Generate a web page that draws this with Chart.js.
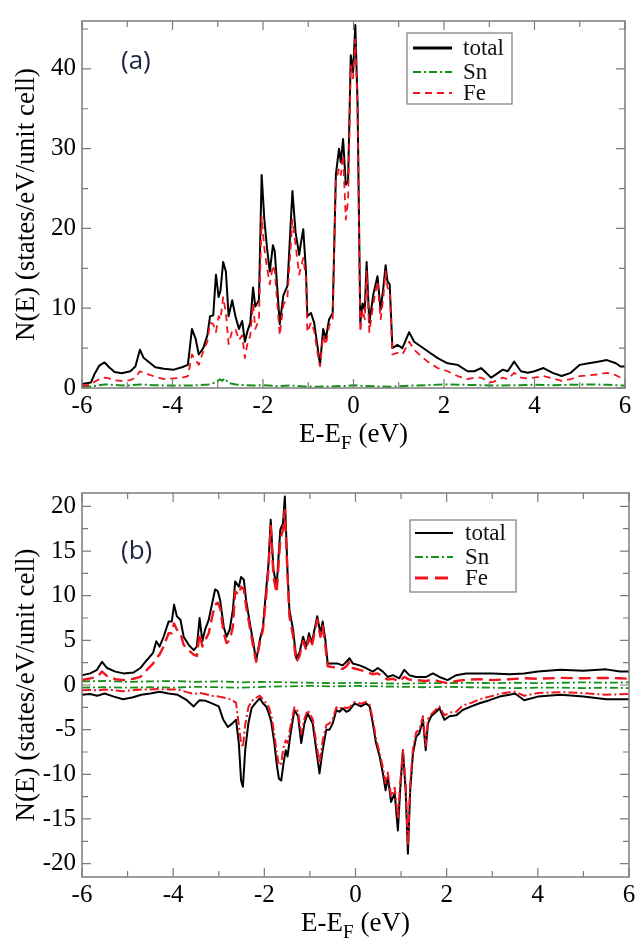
<!DOCTYPE html>
<html>
<head>
<meta charset="utf-8">
<script src="https://cdn.jsdelivr.net/npm/chart.js@4.4.1/dist/chart.umd.min.js"></script>
<style>
  html, body { margin: 0; padding: 0; background: #fff; }
  #chartA { position: absolute; left: 0; top: 0; }
  #chartB { position: absolute; left: 0; top: 470px; }
  .probe { position: absolute; left: -999px; top: 0; font-family: 'Liberation Serif'; }
</style>
</head>
<body>
<span class="probe">total Sn Fe 0123456789</span>
<canvas id="chartA" width="644" height="470"></canvas>
<canvas id="chartB" width="644" height="478"></canvas>
<script>
// Panel (a) - total and Fe read on the same energies
const aTotalE = [
  -6, -5.8, -5.72, -5.62, -5.5, -5.4, -5.28, -5.12, -4.93, -4.82,
  -4.72, -4.64, -4.53, -4.38, -4.19, -3.97, -3.79, -3.66, -3.57, -3.49,
  -3.42, -3.32, -3.23, -3.17, -3.1, -3.04, -2.98, -2.94, -2.88, -2.82,
  -2.76, -2.68, -2.61, -2.53, -2.46, -2.4, -2.35, -2.28, -2.22, -2.17,
  -2.09, -2.03, -1.97, -1.91, -1.85, -1.78, -1.74, -1.7, -1.63, -1.55,
  -1.46, -1.35, -1.28, -1.2, -1.17, -1.11, -1.05, -1.02, -0.94, -0.87,
  -0.8, -0.74, -0.67, -0.61, -0.54, -0.46, -0.39, -0.32, -0.28, -0.23,
  -0.17, -0.12, -0.06, -0.01, 0.04, 0.09, 0.15, 0.2, 0.25, 0.29,
  0.35, 0.44, 0.53, 0.6, 0.66, 0.71, 0.75, 0.8, 0.86, 0.97,
  1.08, 1.23, 1.34, 1.49, 1.64, 1.86, 2.08, 2.3, 2.52, 2.67,
  2.82, 2.93, 3.04, 3.15, 3.3, 3.41, 3.55, 3.7, 3.85, 4.0,
  4.2, 4.4, 4.6, 4.8, 5.0, 5.2, 5.4, 5.6, 5.8, 5.9,
  6.0
];
const aTotalN = [
  0.5, 0.7, 1.8, 2.8, 3.2, 2.6, 2.0, 1.85, 2.1, 2.7,
  4.8, 3.8, 3.3, 2.6, 2.4, 2.3, 2.6, 2.9, 7.4, 6.2,
  4.2, 5.0, 6.6, 9.0, 9.1, 14.2, 11.4, 12.2, 15.8, 14.6,
  9.0, 11.0, 9.0, 7.4, 8.4, 5.8, 7.0, 8.2, 12.6, 10.2,
  11.0, 26.7, 21.1, 17.5, 14.6, 17.9, 17.1, 13.8, 8.0, 11.6,
  12.8, 24.7, 19.5, 16.7, 17.9, 19.9, 14.6, 9.0, 9.4, 8.2,
  5.4, 2.9, 7.4, 6.2, 8.6, 9.4, 26.7, 30.0, 28.3, 31.2,
  25.5, 25.9, 41.7, 39.6, 45.5, 35.6, 8.2, 10.6, 9.8, 15.8,
  8.2, 11.8, 14.0, 9.8, 12.6, 15.4, 13.4, 13.0, 5.0, 5.4,
  5.0, 7.0, 5.8, 5.2, 4.6, 3.75, 3.1, 2.9, 2.1, 2.1,
  2.5, 1.9, 1.3, 1.7, 2.3, 2.1, 3.3, 2.1, 1.9, 2.1,
  2.5, 1.9, 1.5, 1.9, 2.9, 3.1, 3.3, 3.5, 3.1, 2.7,
  2.7
];
const aFeN = [
  0.3, 0.4, 0.8, 1.1, 1.3, 1.2, 0.95, 0.9, 1.0, 1.3,
  2.1, 1.9, 1.7, 1.4, 1.1, 1.2, 1.3, 1.5, 4.2, 3.5,
  2.9, 4.6, 5.8, 8.2, 8.0, 7.0, 9.0, 8.6, 11.4, 9.4,
  5.5, 7.2, 7.4, 6.0, 6.6, 3.75, 5.4, 6.6, 10.6, 7.4,
  8.6, 21.5, 17.5, 15.0, 13.0, 15.4, 14.6, 11.8, 6.6, 10.4,
  11.4, 21.1, 17.9, 14.2, 15.0, 16.3, 13.8, 7.0, 8.2, 7.2,
  4.6, 2.7, 6.6, 5.4, 7.8, 8.6, 25.9, 27.5, 26.7, 29.2,
  21.1, 23.5, 40.4, 38.8, 43.7, 34.8, 7.0, 9.8, 8.6, 14.6,
  7.0, 10.6, 13.4, 8.6, 11.4, 14.6, 12.6, 12.2, 4.2, 4.4,
  4.2, 5.8, 4.8, 4.0, 3.3, 2.5, 2.1, 1.5, 1.1, 1.3,
  1.3, 1.0, 0.7, 0.9, 1.3, 1.1, 1.9, 1.3, 1.2, 1.3,
  1.5, 1.2, 0.9, 1.1, 1.5, 1.6, 1.7, 1.9, 1.6, 1.3,
  1.3
];
const aSnE = [
  -6, -5.8, -5.5, -5.2, -5.0, -4.7, -4.4, -4.0, -3.7, -3.4,
  -3.2, -3.05, -2.95, -2.9, -2.85, -2.75, -2.6, -2.4, -2.2, -2.0,
  -1.7, -1.4, -1.1, -0.8, -0.5, -0.2, 0, 0.2, 0.5, 0.8,
  1.0, 1.3, 1.6, 2.0, 2.4, 2.8, 3.2, 3.6, 4.0, 4.4,
  4.8, 5.2, 5.6, 6.0
];
const aSnN = [
  0.15, 0.2, 0.45, 0.35, 0.3, 0.45, 0.35, 0.3, 0.3, 0.35,
  0.45, 0.7, 1.1, 0.9, 1.2, 0.6, 0.45, 0.35, 0.3, 0.35,
  0.25, 0.3, 0.2, 0.15, 0.2, 0.25, 0.35, 0.25, 0.2, 0.15,
  0.2, 0.3, 0.35, 0.45, 0.4, 0.35, 0.3, 0.35, 0.4, 0.35,
  0.4, 0.45, 0.4, 0.3
];

// Panel (b) - spin up (positive)
const bUpE = [
  -6, -5.82, -5.67, -5.56, -5.45, -5.27, -5.09, -4.87, -4.72, -4.61,
  -4.54, -4.44, -4.37, -4.3, -4.21, -4.1, -4.03, -3.98, -3.92, -3.84,
  -3.77, -3.66, -3.55, -3.48, -3.42, -3.36, -3.3, -3.22, -3.15, -3.08,
  -3.02, -2.97, -2.89, -2.83, -2.76, -2.69, -2.64, -2.56, -2.51, -2.45,
  -2.4, -2.31, -2.24, -2.18, -2.1, -2.03, -1.96, -1.91, -1.86, -1.8,
  -1.73, -1.65, -1.59, -1.55, -1.49, -1.45, -1.37, -1.3, -1.23, -1.15,
  -1.08, -1.02, -0.96, -0.9, -0.84, -0.77, -0.72, -0.66, -0.61, -0.5,
  -0.39, -0.28, -0.2, -0.13, -0.06, 0.09, 0.23, 0.38, 0.49, 0.6,
  0.71, 0.82, 0.96, 1.07, 1.18, 1.33, 1.55, 1.7, 1.84, 2.02,
  2.21, 2.43, 2.72, 3.01, 3.38, 3.7, 4.0, 4.5, 5.0, 5.5,
  5.8, 6.0
];
const bTotalUp = [
  1.1, 1.3, 1.7, 2.6, 1.9, 1.5, 1.3, 1.4, 1.9, 2.6,
  3.0, 3.6, 4.9, 4.3, 5.4, 7.1, 7.1, 9.0, 7.7, 7.3,
  5.4, 4.5, 3.9, 4.3, 7.5, 4.9, 6.2, 7.3, 9.0, 10.7,
  10.5, 9.5, 6.5, 5.4, 6.2, 8.4, 11.6, 11.0, 12.1, 11.8,
  9.5, 6.7, 4.7, 2.7, 5.0, 6.5, 10.7, 13.5, 18.5, 12.9,
  11.0, 17.4, 18.1, 21.1, 12.5, 8.4, 6.2, 3.0, 3.6, 5.4,
  4.3, 5.8, 4.7, 6.2, 7.7, 5.8, 7.1, 5.0, 2.4, 2.4,
  2.4, 2.2, 2.6, 3.0, 2.4, 2.2, 1.9, 1.5, 1.9, 1.5,
  0.9, 1.1, 0.75, 1.7, 1.1, 0.9, 0.9, 1.3, 0.9, 0.55,
  1.1, 1.3, 1.3, 1.3, 1.2, 1.3, 1.5, 1.7, 1.6, 1.75,
  1.5, 1.5
];
const bFeUp = [
  0.55, 0.75, 0.9, 1.5, 1.0, 0.65, 0.55, 0.7, 0.9, 1.5,
  1.9, 2.4, 3.0, 3.4, 4.3, 5.8, 5.8, 6.9, 6.2, 5.8,
  4.5, 3.9, 3.4, 3.25, 5.8, 4.3, 5.0, 5.8, 7.5, 9.0,
  9.2, 8.6, 5.8, 4.7, 5.0, 6.5, 10.5, 10.1, 11.0, 10.7,
  8.8, 6.2, 4.2, 2.6, 4.7, 6.2, 9.9, 12.9, 17.8, 12.1,
  10.3, 16.3, 17.4, 19.6, 12.1, 7.7, 5.5, 2.6, 3.2, 4.9,
  3.9, 5.3, 4.3, 5.8, 7.3, 5.4, 6.6, 4.3, 2.1, 2.0,
  1.9, 1.8, 2.1, 2.6, 1.9, 1.7, 1.5, 1.2, 1.3, 0.9,
  0.6, 0.7, 0.4, 0.9, 0.6, 0.55, 0.45, 0.6, 0.4, 0.2,
  0.45, 0.6, 0.65, 0.55, 0.65, 0.75, 0.7, 0.8, 0.75, 0.8,
  0.75, 0.7
];

// Panel (b) - spin down (negative)
const bDnE = [
  -6, -5.82, -5.67, -5.5, -5.3, -5.1, -4.9, -4.7, -4.5, -4.3,
  -4.1, -3.9, -3.7, -3.55, -3.42, -3.3, -3.15, -3.0, -2.9, -2.8,
  -2.7, -2.62, -2.56, -2.51, -2.47, -2.42, -2.35, -2.28, -2.2, -2.1,
  -2.03, -1.96, -1.9, -1.85, -1.78, -1.73, -1.68, -1.63, -1.58, -1.53,
  -1.49, -1.44, -1.41, -1.34, -1.26, -1.19, -1.12, -1.05, -0.94, -0.86,
  -0.79, -0.72, -0.64, -0.57, -0.5, -0.42, -0.35, -0.28, -0.2, -0.13,
  -0.02, 0.12, 0.23, 0.31, 0.38, 0.45, 0.53, 0.6, 0.66, 0.71,
  0.78, 0.86, 0.93, 0.98, 1.04, 1.1, 1.15, 1.2, 1.26, 1.33,
  1.4, 1.48, 1.54, 1.59, 1.66, 1.77, 1.84, 1.95, 2.06, 2.21,
  2.35, 2.54, 2.72, 2.94, 3.16, 3.38, 3.5, 3.7, 4.0, 4.5,
  5.0, 5.5, 6.0
];
const bTotalDn = [
  -1.1, -1.0, -1.2, -0.95, -1.3, -1.6, -1.4, -1.1, -0.95, -0.75,
  -0.95, -1.1, -1.7, -2.4, -1.7, -1.75, -2.05, -2.4, -3.9, -4.7,
  -4.3, -3.9, -6.5, -10.7, -11.4, -7.3, -4.3, -2.6, -2.05, -1.5,
  -2.05, -2.4, -3.2, -4.1, -6.5, -8.8, -10.5, -10.7, -8.8, -7.3,
  -8.0, -6.0, -5.0, -2.8, -3.5, -6.5, -4.3, -3.2, -4.3, -7.3,
  -9.9, -7.3, -5.0, -5.0, -4.3, -2.8, -3.0, -2.6, -3.0, -2.8,
  -2.05, -2.4, -2.05, -2.4, -4.3, -6.5, -8.0, -9.9, -11.8, -10.3,
  -13.1, -12.1, -16.3, -11.8, -7.3, -11.8, -18.9, -11.8, -7.7, -5.8,
  -5.4, -3.9, -7.3, -4.3, -3.5, -3.0, -2.6, -3.9, -3.5, -3.4,
  -2.8, -2.4, -2.05, -1.7, -1.3, -1.1, -0.95, -1.7, -1.3, -1.1,
  -1.3, -1.6, -1.6
];
const bFeDn = [
  -0.6, -0.55, -0.6, -0.5, -0.6, -0.7, -0.6, -0.5, -0.5, -0.45,
  -0.5, -0.5, -0.8, -1.0, -0.9, -1.0, -1.2, -1.3, -1.4, -1.5,
  -1.7, -2.0, -4.5, -6.5, -7.0, -4.5, -2.5, -1.8, -1.5, -1.2,
  -1.6, -2.0, -2.5, -3.3, -5.5, -7.5, -9.0, -8.8, -7.0, -6.2,
  -6.5, -5.0, -4.2, -2.5, -3.0, -5.5, -3.8, -2.8, -3.8, -6.5,
  -8.8, -6.2, -4.5, -4.3, -3.8, -2.5, -2.7, -2.4, -2.6, -2.5,
  -1.9, -2.1, -1.9, -2.2, -3.8, -6.0, -7.6, -9.2, -11.0, -9.8,
  -12.5, -11.5, -15.0, -11.0, -7.3, -11.0, -18.0, -11.0, -7.2, -5.3,
  -5.0, -3.5, -6.8, -3.8, -3.3, -2.7, -2.4, -3.4, -3.1, -3.0,
  -2.3, -2.0, -1.6, -1.3, -1.0, -0.8, -0.75, -1.2, -0.9, -0.8,
  -0.9, -1.1, -1.0
];

// Panel (b) - Sn, both spins
const bSnE = [
  -6, -5.5, -5, -4.5, -4, -3.5, -3, -2.5, -2, -1.5,
  -1, -0.5, 0, 0.5, 1, 1.5, 2, 2.5, 3, 3.5,
  4, 4.5, 5, 5.5, 6
];
const bSnUp = [
  0.4, 0.45, 0.35, 0.4, 0.45, 0.35, 0.4, 0.3, 0.35, 0.3,
  0.25, 0.2, 0.25, 0.2, 0.15, 0.2, 0.2, 0.25, 0.2, 0.25,
  0.2, 0.25, 0.3, 0.25, 0.3
];
const bSnDn = [
  -0.3, -0.25, -0.3, -0.25, -0.3, -0.2, -0.25, -0.3, -0.2, -0.15,
  -0.1, -0.15, -0.1, -0.15, -0.2, -0.25, -0.2, -0.25, -0.3, -0.35,
  -0.3, -0.3, -0.35, -0.3, -0.35
];

const SERIF = '"Liberation Serif", Tinos, "Nimbus Roman", "DejaVu Serif", serif';
const GREEN = '#17901a';
const RED = '#f0141e';
const FRAME = '#7c7c7c';

function pts(xs, ys) {
  return xs.map((x, i) => ({ x: x, y: ys[i] }));
}

// Frame, inward ticks, legend box, panel tag and x title
function framePlugin(cfg) {
  return {
    id: 'frame' + cfg.tag,
    afterDraw(chart) {
      const { ctx, chartArea: a } = chart;
      const xs = chart.scales.x, ys = chart.scales.y;
      ctx.save();
      ctx.strokeStyle = FRAME;
      ctx.lineWidth = 1.5;
      ctx.strokeRect(a.left, a.top, a.right - a.left, a.bottom - a.top);

      ctx.lineWidth = 1.2;
      ctx.beginPath();
      for (let v = -6; v <= 6; v++) {
        const px = xs.getPixelForValue(v);
        const len = v % 2 === 0 ? 9 : 6;
        ctx.moveTo(px, a.bottom); ctx.lineTo(px, a.bottom - len);
        ctx.moveTo(px, a.top); ctx.lineTo(px, a.top + len);
      }
      for (let v = cfg.yFrom; v <= cfg.yTo + 0.01; v += cfg.yMinor) {
        const py = ys.getPixelForValue(v);
        const len = Math.abs(v % cfg.yMajor) < 0.01 ? 9 : 6;
        ctx.moveTo(a.left, py); ctx.lineTo(a.left + len, py);
        ctx.moveTo(a.right, py); ctx.lineTo(a.right - len, py);
      }
      ctx.stroke();

      // legend
      const L = cfg.legend;
      ctx.fillStyle = '#fff';
      ctx.fillRect(L.x, L.y, L.w, L.h);
      ctx.strokeStyle = FRAME;
      ctx.lineWidth = 1.2;
      ctx.strokeRect(L.x, L.y, L.w, L.h);
      ctx.font = '23px ' + SERIF;
      ctx.textBaseline = 'middle';
      ctx.textAlign = 'left';
      cfg.items.forEach((it, i) => {
        const ry = L.rows[i];
        ctx.strokeStyle = it.color;
        ctx.lineWidth = it.width;
        ctx.setLineDash(it.dash);
        ctx.beginPath();
        ctx.moveTo(L.lx1, ry); ctx.lineTo(L.lx2, ry);
        ctx.stroke();
        ctx.setLineDash([]);
        ctx.fillStyle = '#111';
        ctx.fillText(it.label, L.tx, ry + 1);
      });

      // panel tag
      ctx.fillStyle = '#1c2540';
      ctx.font = '26px "Open Sans", sans-serif';
      ctx.fillText(cfg.tag, cfg.tagX, cfg.tagY);

      // x title with subscript F
      const big = '27px ' + SERIF, small = '19px ' + SERIF;
      ctx.font = big;
      const w1 = ctx.measureText('E-E').width;
      const w3 = ctx.measureText(' (eV)').width;
      ctx.font = small;
      const w2 = ctx.measureText('F').width;
      let x0 = (a.left + a.right) / 2 - (w1 + w2 + w3) / 2;
      ctx.fillStyle = '#000';
      ctx.textBaseline = 'alphabetic';
      ctx.font = big;
      ctx.fillText('E-E', x0, cfg.titleBase);
      ctx.font = small;
      ctx.fillText('F', x0 + w1, cfg.titleBase + 7);
      ctx.font = big;
      ctx.fillText(' (eV)', x0 + w1 + w2, cfg.titleBase);
      ctx.restore();
    }
  };
}

function makeChart(id, datasets, cfg) {
  return new Chart(document.getElementById(id), {
    type: 'line',
    data: { datasets: datasets },
    options: {
      responsive: false,
      animation: false,
      layout: { padding: cfg.padding },
      plugins: { legend: { display: false }, tooltip: { enabled: false } },
      elements: {
        point: { radius: 0 },
        line: { tension: 0, borderJoinStyle: 'round', fill: false }
      },
      scales: {
        x: {
          type: 'linear', min: -6, max: 6,
          grid: { display: false, drawTicks: false },
          border: { display: false },
          ticks: { stepSize: 2, color: '#000', font: { family: SERIF, size: 25 }, padding: 3, maxRotation: 0 },
          afterFit: s => { s.height = cfg.xHeight; }
        },
        y: {
          type: 'linear', min: cfg.yMin, max: cfg.yMax,
          grid: { display: false, drawTicks: false },
          border: { display: false },
          ticks: { stepSize: cfg.yMajor, includeBounds: false, color: '#000', font: { family: SERIF, size: 25 }, padding: 6 },
          title: {
            display: true, text: 'N(E) (states/eV/unit cell)', color: '#000',
            font: { family: SERIF, size: 27 }, padding: { top: 11, bottom: 0 }
          },
          afterFit: s => { s.width = 82; }
        }
      }
    },
    plugins: [framePlugin(cfg)]
  });
}

function drawAll() {
  // Panel (a)
  makeChart('chartA', [
    { data: pts(aTotalE, aFeN), borderColor: RED, borderWidth: 1.8, borderDash: [7, 5] },
    { data: pts(aSnE, aSnN), borderColor: GREEN, borderWidth: 2, borderDash: [9, 3, 2, 3] },
    { data: pts(aTotalE, aTotalN), borderColor: '#000', borderWidth: 2 }
  ], {
    padding: { top: 7, right: 19, left: 0, bottom: 0 },
    xHeight: 82, yMin: 0, yMax: 46, yMajor: 10, yMinor: 5, yFrom: 0, yTo: 45,
    legend: { x: 407, y: 33, w: 105, h: 71, rows: [48, 72, 93], lx1: 413, lx2: 452, tx: 463 },
    items: [
      { label: 'total', color: '#000', width: 3.2, dash: [] },
      { label: 'Sn', color: GREEN, width: 2, dash: [8, 3, 2, 3] },
      { label: 'Fe', color: RED, width: 1.8, dash: [7, 5] }
    ],
    tag: '(a)', tagX: 121, tagY: 62, titleBase: 442
  });

  // Panel (b)
  makeChart('chartB', [
    { data: pts(bUpE, bFeUp), borderColor: RED, borderWidth: 2.4, borderDash: [12, 6] },
    { data: pts(bDnE, bFeDn), borderColor: RED, borderWidth: 2, borderDash: [9, 3, 2, 3] },
    { data: pts(bSnE, bSnUp), borderColor: GREEN, borderWidth: 1.8, borderDash: [8, 3, 2, 3] },
    { data: pts(bSnE, bSnDn), borderColor: GREEN, borderWidth: 1.8, borderDash: [8, 3, 2, 3] },
    { data: pts(bUpE, bTotalUp), borderColor: '#000', borderWidth: 2 },
    { data: pts(bDnE, bTotalDn), borderColor: '#000', borderWidth: 2 }
  ], {
    padding: { top: 23, right: 15, left: 0, bottom: 0 },
    xHeight: 71, yMin: -21.5, yMax: 21.5, yMajor: 5, yMinor: 2.5, yFrom: -20, yTo: 20,
    legend: { x: 410, y: 50, w: 106, h: 72, rows: [63, 87, 108], lx1: 415, lx2: 453, tx: 465 },
    items: [
      { label: 'total', color: '#000', width: 2, dash: [] },
      { label: 'Sn', color: GREEN, width: 2, dash: [8, 3, 2, 3] },
      { label: 'Fe', color: RED, width: 3, dash: [13, 7] }
    ],
    tag: '(b)', tagX: 121, tagY: 82, titleBase: 461
  });
}

// make sure the serif face is ready before the canvases use it
if (document.fonts && document.fonts.load) {
  Promise.all([
    document.fonts.load('25px "Liberation Serif"'),
    document.fonts.load('26px "Open Sans"')
  ]).then(drawAll, drawAll);
} else {
  drawAll();
}
</script>
</body>
</html>
